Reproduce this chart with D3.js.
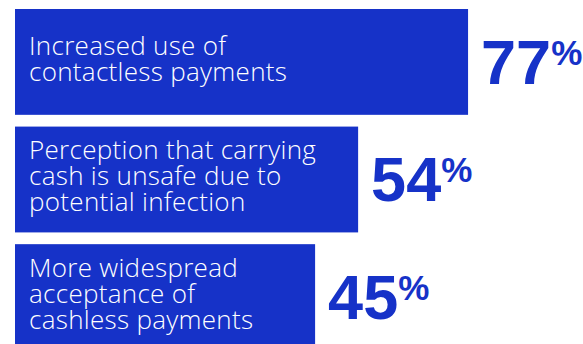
<!DOCTYPE html>
<html>
<head>
<meta charset="utf-8">
<script src="https://cdn.jsdelivr.net/npm/d3@7"></script>
<style>
  body { margin: 0; background: #fff; }
  svg { display: block; }
</style>
</head>
<body>
<div id="chart"></div>
<script>
// reasons, one line of text per entry
const labelLines = [
  ["Increased use of", "contactless payments"],
  ["Perception that carrying", "cash is unsafe due to", "potential infection"],
  ["More widespread", "acceptance of", "cashless payments"]
];
const values = [77, 54, 45];

const width = 583;
const height = 344;
const left = 15;
const blue = "#1632c8";

const data = values.map((v, i) => ({ id: i, value: v, lines: labelLines[i] }));

const svg = d3.select("#chart").append("svg")
  .attr("width", width)
  .attr("height", height);

// + SCALES
const yScale = d3.scaleBand()
  .domain(data.map(d => d.id))
  .range([9, 350])
  .paddingInner(0.1)
  .paddingOuter(0);

// right edge of each bar
const xScale = d3.scaleLinear()
  .domain([0, 100])
  .range([100, 578]);

const rows = svg.selectAll("g.row")
  .data(data)
  .join("g")
  .attr("class", "row")
  .attr("transform", d => `translate(0,${yScale(d.id)})`);

rows.append("rect")
  .attr("x", left)
  .attr("y", 0)
  .attr("width", d => xScale(d.value) - left)
  .attr("height", yScale.bandwidth())
  .attr("fill", blue);

// label inside bar
const lineH = 26;
rows.append("text")
  .attr("fill", "#fff")
  .attr("font-family", "'Open Sans', sans-serif")
  .attr("font-weight", 300)
  .attr("font-size", 26)
  .attr("letter-spacing", 0.3)
  .selectAll("tspan")
  .data(d => d.lines.map((t, i) => ({ t, i, n: d.lines.length })))
  .join("tspan")
  .attr("x", left + 14)
  .attr("y", d => yScale.bandwidth() / 2 + 6 + (d.i - (d.n - 1) / 2) * lineH)
  .text(d => d.t);

// value label
const val = rows.append("text")
  .attr("x", d => xScale(d.value) + 13)
  .attr("y", yScale.bandwidth() / 2 + 22)
  .attr("fill", blue)
  .attr("font-family", "'Liberation Sans', Arial, sans-serif")
  .attr("font-weight", 700)
  .attr("font-size", 63);

val.append("tspan").text(d => d.value);
val.append("tspan")
  .attr("font-size", 35)
  .attr("dy", -19)
  .text("%");
</script>
</body>
</html>
